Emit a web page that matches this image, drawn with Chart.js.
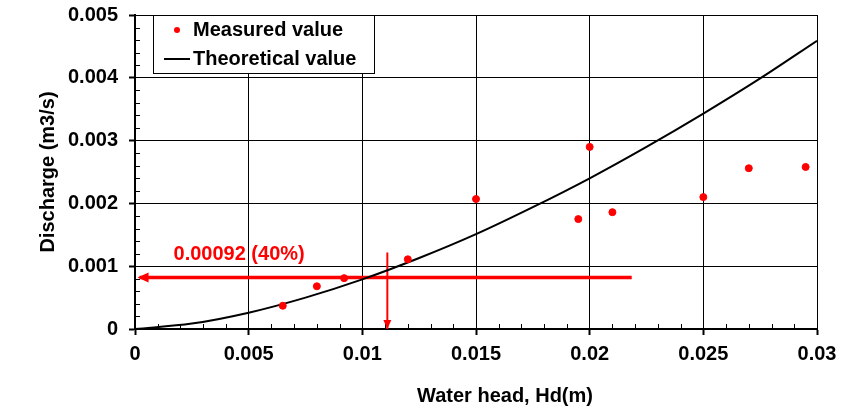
<!DOCTYPE html>
<html lang="en">
<head>
  <meta charset="UTF-8">
  <title>Discharge vs water head</title>
  <script src="https://cdn.jsdelivr.net/npm/chart.js"></script>
  <style>
    html, body { margin: 0; padding: 0; background: #fff; }
    #wrap { width: 856px; height: 409px; }
  </style>
</head>
<body>
  <div id="wrap"><canvas id="chart"></canvas></div>
  <script>
    // measured points (water head [m], discharge [m3/s])
    const measuredX = [0.0065, 0.008, 0.0092, 0.012, 0.015, 0.0195, 0.02, 0.021, 0.025, 0.027, 0.0295];
    const measuredY = [0.00037, 0.00068, 0.00081, 0.00111, 0.00207, 0.00175, 0.0029, 0.00186, 0.0021, 0.00256, 0.00258];

    // theoretical curve
    const theoryX = [0, 0.0025, 0.005, 0.0075, 0.01, 0.0125, 0.015, 0.0175, 0.02, 0.0225, 0.025, 0.0275, 0.03];
    const theoryY = [0, 0.000086, 0.00026, 0.0005, 0.00079, 0.00113, 0.00151, 0.00194, 0.0024, 0.0029, 0.00343, 0.00399, 0.00459];

    // red annotation
    const arrowHX = [0.02185, 0.0002];
    const arrowHY = [0.00082, 0.00082];
    const arrowVX = [0.0111, 0.0111];
    const arrowVY = [0.00122, 0];
    const noteText = '0.00092 (40%)';
    const notePos = [0.00458, 0.00119];

    const xTicksMajor = [0, 0.005, 0.01, 0.015, 0.02, 0.025, 0.03];
    const yTicksMajor = [0, 0.001, 0.002, 0.003, 0.004, 0.005];

    const RED = '#ff0000';
    const FONT = '"Liberation Sans", Arial, sans-serif';

    const toPts = (xs, ys) => xs.map((x, i) => ({ x: x, y: ys[i] }));

    // minor ticks, arrow heads, note, legend box, x title
    const extras = {
      id: 'extras',
      beforeDatasetsDraw(chart) {
        const { ctx, scales: { x, y }, chartArea: a } = chart;
        ctx.save();
        ctx.strokeStyle = '#000';
        ctx.lineWidth = 1;
        ctx.beginPath();
        for (let i = 1; i < 30; i++) {
          if (i % 5 === 0) continue;
          const px = Math.round(x.getPixelForValue(i * 0.001)) + 0.5;
          ctx.moveTo(px, a.bottom);
          ctx.lineTo(px, a.bottom - 5);
        }
        for (let i = 1; i < 25; i++) {
          if (i % 5 === 0) continue;
          const py = Math.round(y.getPixelForValue(i * 0.0002)) + 0.5;
          ctx.moveTo(a.left, py);
          ctx.lineTo(a.left + 5, py);
        }
        ctx.stroke();
        ctx.restore();
      },
      afterDatasetsDraw(chart) {
        const { ctx, scales: { x, y }, chartArea: a } = chart;
        ctx.save();
        ctx.fillStyle = RED;
        // left arrow head
        const hx = x.getPixelForValue(arrowHX[1]), hy = y.getPixelForValue(arrowHY[1]);
        ctx.beginPath();
        ctx.moveTo(hx - 2, hy);
        ctx.lineTo(hx + 9, hy - 5);
        ctx.lineTo(hx + 9, hy + 5);
        ctx.closePath();
        ctx.fill();
        // down arrow head
        const vx = x.getPixelForValue(arrowVX[1]), vy = y.getPixelForValue(arrowVY[1]);
        ctx.beginPath();
        ctx.moveTo(vx, vy);
        ctx.lineTo(vx - 4, vy - 9);
        ctx.lineTo(vx + 4, vy - 9);
        ctx.closePath();
        ctx.fill();
        // note text
        ctx.font = 'bold 20px ' + FONT;
        ctx.textAlign = 'center';
        ctx.textBaseline = 'middle';
        ctx.fillText(noteText, x.getPixelForValue(notePos[0]), y.getPixelForValue(notePos[1]));

        // legend box
        const lx = a.left + 18, ly = a.top, lw = 221, lh = 58;
        ctx.fillStyle = '#fff';
        ctx.fillRect(lx, ly, lw, lh);
        ctx.strokeStyle = '#000';
        ctx.lineWidth = 1;
        ctx.strokeRect(lx + 0.5, ly + 0.5, lw, lh);
        const ds = chart.data.datasets;
        ctx.fillStyle = ds[0].backgroundColor;
        ctx.beginPath();
        ctx.arc(lx + 24, ly + 15, 3, 0, Math.PI * 2);
        ctx.fill();
        ctx.strokeStyle = ds[1].borderColor;
        ctx.lineWidth = 2;
        ctx.beginPath();
        ctx.moveTo(lx + 11, ly + 44);
        ctx.lineTo(lx + 37, ly + 44);
        ctx.stroke();
        ctx.fillStyle = '#000';
        ctx.font = 'bold 20px ' + FONT;
        ctx.textAlign = 'left';
        ctx.textBaseline = 'middle';
        ctx.fillText(ds[0].label, lx + 40, ly + 15);
        ctx.fillText(ds[1].label, lx + 40, ly + 44);

        // x axis title
        ctx.font = 'bold 20px ' + FONT;
        ctx.textAlign = 'center';
        ctx.fillText('Water head, Hd(m)', (a.left + a.right) / 2 + 29, 396);
        ctx.restore();
      }
    };

    new Chart(document.getElementById('chart'), {
      type: 'scatter',
      data: {
        datasets: [
          {
            label: 'Measured value',
            data: toPts(measuredX, measuredY),
            backgroundColor: RED,
            borderColor: RED,
            pointRadius: 3.5,
            pointHoverRadius: 3.5,
            order: 0
          },
          {
            label: 'Theoretical value',
            data: toPts(theoryX, theoryY),
            showLine: true,
            borderColor: '#000',
            borderWidth: 2,
            pointRadius: 0,
            cubicInterpolationMode: 'monotone',
            order: 1
          },
          {
            label: 'arrowH',
            data: toPts(arrowHX, arrowHY),
            showLine: true,
            borderColor: RED,
            borderWidth: 3.5,
            pointRadius: 0,
            order: 2
          },
          {
            label: 'arrowV',
            data: toPts(arrowVX, arrowVY),
            showLine: true,
            borderColor: RED,
            borderWidth: 2,
            pointRadius: 0,
            order: 2
          }
        ]
      },
      options: {
        responsive: true,
        maintainAspectRatio: false,
        animation: false,
        layout: { padding: { left: 0, right: 39, top: 15, bottom: 0 } },
        plugins: {
          legend: { display: false },
          tooltip: { enabled: false }
        },
        scales: {
          x: {
            type: 'linear',
            min: 0,
            max: 0.03,
            afterFit(s) { s.height = 80; s.paddingRight = 0; s.paddingLeft = 0; },
            afterBuildTicks(s) { s.ticks = xTicksMajor.map(v => ({ value: v })); },
            border: { color: '#000', width: 2 },
            grid: { color: '#000', lineWidth: 1, tickLength: 6, tickColor: '#000', tickWidth: 2 },
            ticks: {
              color: '#000',
              padding: 7,
              maxRotation: 0,
              font: { family: FONT, size: 20, weight: 'bold' },
              callback: v => String(v)
            }
          },
          y: {
            type: 'linear',
            min: 0,
            max: 0.005,
            afterFit(s) { s.width = 135; s.paddingTop = 0; s.paddingBottom = 0; },
            afterBuildTicks(s) { s.ticks = yTicksMajor.map(v => ({ value: v })); },
            border: { color: '#000', width: 2 },
            grid: { color: '#000', lineWidth: 1, tickLength: 6, tickColor: '#000', tickWidth: 2 },
            ticks: {
              color: '#000',
              padding: 11,
              font: { family: FONT, size: 20, weight: 'bold' },
              callback: v => String(v)
            },
            title: {
              display: true,
              text: 'Discharge (m3/s)',
              color: '#000',
              padding: { top: 36, bottom: 0 },
              font: { family: FONT, size: 20, weight: 'bold' }
            }
          }
        }
      },
      plugins: [extras]
    });
  </script>
</body>
</html>
